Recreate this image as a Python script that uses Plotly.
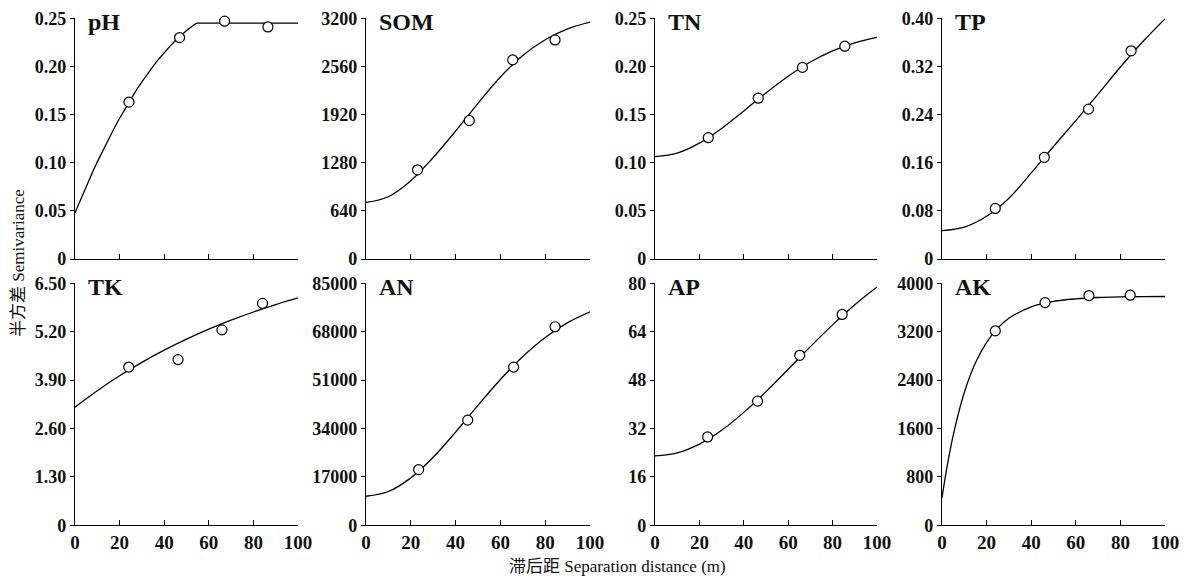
import plotly.graph_objects as go

# Semivariograms of soil properties, 2 rows x 4 panels

PANELS = ["pH", "SOM", "TN", "TP", "TK", "AN", "AP", "AK"]

# observed semivariance (open circles)
PH_LAG = [24.2, 46.9, 67.1, 86.5]
PH_GAMMA = [0.163, 0.230, 0.247, 0.241]
SOM_LAG = [23.0, 46.1, 65.5, 84.4]
SOM_GAMMA = [1186, 1841, 2647, 2912]
TN_LAG = [24.0, 46.5, 66.4, 85.5]
TN_GAMMA = [0.126, 0.167, 0.199, 0.221]
TP_LAG = [23.9, 45.9, 65.7, 84.8]
TP_GAMMA = [0.084, 0.169, 0.249, 0.346]
TK_LAG = [24.1, 46.2, 65.9, 84.1]
TK_GAMMA = [4.25, 4.45, 5.25, 5.96]
AN_LAG = [23.5, 45.4, 65.9, 84.4]
AN_GAMMA = [19590, 36930, 55570, 69740]
AP_LAG = [23.7, 46.2, 65.2, 84.3]
AP_GAMMA = [29.2, 41.05, 56.2, 69.7]
AK_LAG = [23.9, 46.2, 65.9, 84.4]
AK_GAMMA = [3214, 3681, 3797, 3803]

# fitted model curves
CURVE_H = [0, 10, 20, 30, 40, 50, 60, 70, 80, 90, 100]
PH_FIT_H = [0, 2.5, 5, 7.5, 10, 12.5, 15, 17.5, 20, 22.5, 25, 27.5, 30, 32.5, 35,
            37.5, 40, 42.5, 45, 47.5, 50, 52.5, 54.5, 60, 70, 80, 90, 100]
PH_FIT = [0.048, 0.0619, 0.0754, 0.0883, 0.1009, 0.1129, 0.1245, 0.1356, 0.1462,
          0.1564, 0.1661, 0.1753, 0.1840, 0.1923, 0.2001, 0.2075, 0.2144, 0.2208,
          0.2267, 0.2322, 0.2372, 0.2417, 0.2450, 0.2450, 0.2450, 0.2450, 0.2450, 0.2450]
SOM_FIT = [752, 828, 1040, 1350, 1700, 2070, 2420, 2705, 2915, 3060, 3150]
TN_FIT = [0.1064, 0.1100, 0.1203, 0.1356, 0.1538, 0.1725, 0.1898, 0.2046, 0.2161,
          0.2245, 0.2302]
TP_FIT = [0.047, 0.053, 0.071, 0.101, 0.143, 0.187, 0.230, 0.274, 0.319, 0.361, 0.399]
TK_FIT = [3.174, 3.616, 4.015, 4.377, 4.704, 5.000, 5.268, 5.510, 5.729, 5.927, 6.107]
AN_FIT = [10200, 11872, 16659, 23914, 32744, 42132, 51205, 59278, 65977, 71190, 74993]
AP_FIT = [22.95, 23.94, 26.83, 31.40, 37.33, 44.19, 51.58, 59.06, 66.25, 72.90, 78.78]
AK_FIT_H = [0, 2, 5, 10, 15, 20, 25, 30, 40, 50, 60, 70, 80, 90, 100]
AK_FIT = [452, 911, 1483, 2194, 2686, 3025, 3259, 3421, 3610, 3700, 3743, 3765,
          3775, 3780, 3782]

# y-axis ticks per panel
PH_TICKS = [0, 0.05, 0.10, 0.15, 0.20, 0.25]
PH_LABELS = ["0", "0.05", "0.10", "0.15", "0.20", "0.25"]
SOM_TICKS = [0, 640, 1280, 1920, 2560, 3200]
SOM_LABELS = ["0", "640", "1280", "1920", "2560", "3200"]
TN_TICKS = [0, 0.05, 0.10, 0.15, 0.20, 0.25]
TN_LABELS = ["0", "0.05", "0.10", "0.15", "0.20", "0.25"]
TP_TICKS = [0, 0.08, 0.16, 0.24, 0.32, 0.40]
TP_LABELS = ["0", "0.08", "0.16", "0.24", "0.32", "0.40"]
TK_TICKS = [0, 1.3, 2.6, 3.9, 5.2, 6.5]
TK_LABELS = ["0", "1.30", "2.60", "3.90", "5.20", "6.50"]
AN_TICKS = [0, 17000, 34000, 51000, 68000, 85000]
AN_LABELS = ["0", "17000", "34000", "51000", "68000", "85000"]
AP_TICKS = [0, 16, 32, 48, 64, 80]
AP_LABELS = ["0", "16", "32", "48", "64", "80"]
AK_TICKS = [0, 800, 1600, 2400, 3200, 4000]
AK_LABELS = ["0", "800", "1600", "2400", "3200", "4000"]

X_TICKS = [0, 20, 40, 60, 80, 100]

panels = [
    (PH_LAG, PH_GAMMA, PH_FIT_H, PH_FIT, PH_TICKS, PH_LABELS),
    (SOM_LAG, SOM_GAMMA, CURVE_H, SOM_FIT, SOM_TICKS, SOM_LABELS),
    (TN_LAG, TN_GAMMA, CURVE_H, TN_FIT, TN_TICKS, TN_LABELS),
    (TP_LAG, TP_GAMMA, CURVE_H, TP_FIT, TP_TICKS, TP_LABELS),
    (TK_LAG, TK_GAMMA, CURVE_H, TK_FIT, TK_TICKS, TK_LABELS),
    (AN_LAG, AN_GAMMA, CURVE_H, AN_FIT, AN_TICKS, AN_LABELS),
    (AP_LAG, AP_GAMMA, CURVE_H, AP_FIT, AP_TICKS, AP_LABELS),
    (AK_LAG, AK_GAMMA, AK_FIT_H, AK_FIT, AK_TICKS, AK_LABELS),
]

# page body has an 8px margin, so lay out in screen pixels minus that offset
OFF = 8
W, H = 1192 - OFF, 580 - OFF
COL_PX = [(75, 298), (366, 590), (655, 877), (942, 1165)]
ROW_PX = [(18.3, 259), (283.3, 525.3)]
SERIF = "Liberation Serif, Times New Roman, Noto Sans CJK SC, serif"


def px_x(v):
    return (v - OFF) / W


def px_y(v):
    return 1 - (v - OFF) / H


fig = go.Figure()
layout = {}
annotations = []

for i, (lag, gamma, fit_h, fit, yticks, ylabels) in enumerate(panels):
    row, col = divmod(i, 4)
    n = "" if i == 0 else str(i + 1)
    x0, x1 = COL_PX[col]
    top, bottom = ROW_PX[row]

    # pH is a spherical model with a hard break at the range, keep it linear
    line_shape = "linear" if i == 0 else "spline"
    fig.add_trace(go.Scatter(
        x=fit_h, y=fit, mode="lines", line=dict(color="black", width=1.3, shape=line_shape),
        xaxis="x" + n, yaxis="y" + n, showlegend=False, hoverinfo="skip", cliponaxis=False,
    ))
    fig.add_trace(go.Scatter(
        x=lag, y=gamma, mode="markers",
        marker=dict(symbol="circle", size=10, color="white", line=dict(color="black", width=1.2)),
        xaxis="x" + n, yaxis="y" + n, showlegend=False, cliponaxis=False,
    ))

    layout["xaxis" + n] = dict(
        domain=[px_x(x0), px_x(x1)], range=[0, 100], anchor="y" + n,
        showline=True, linecolor="black", linewidth=1.2,
        ticks="inside", ticklen=5, tickwidth=1.2, tickcolor="black",
        tickvals=X_TICKS, showticklabels=(row == 1), automargin=False,
        tickfont=dict(family=SERIF, size=19, color="#111", weight="bold"),
        showgrid=False, zeroline=False,
    )
    layout["yaxis" + n] = dict(
        domain=[px_y(bottom), px_y(top)], range=[0, yticks[-1]], anchor="x" + n,
        showline=True, linecolor="black", linewidth=1.2,
        ticks="outside", ticklen=4, tickwidth=1.2, tickcolor="black",
        tickvals=yticks, ticktext=ylabels, automargin=False, ticklabeloverflow="allow",
        tickfont=dict(family=SERIF, size=18, color="#111", weight="bold"),
        showgrid=False, zeroline=False,
    )
    annotations.append(dict(
        text=PANELS[i], xref="paper", yref="paper",
        x=px_x(x0 + 11), y=px_y(top + 4), xanchor="left", yanchor="middle",
        showarrow=False, font=dict(family=SERIF, size=24, color="#111", weight="bold"),
    ))

annotations.append(dict(
    text="滞后距 Separation distance (m)", xref="paper", yref="paper",
    x=px_x(617), y=px_y(566), xanchor="center", yanchor="middle", showarrow=False,
    font=dict(family=SERIF, size=17, color="#111"),
))
annotations.append(dict(
    text="半方差 Semivariance", xref="paper", yref="paper", textangle=-90,
    x=px_x(18), y=px_y(263), xanchor="center", yanchor="middle", showarrow=False,
    font=dict(family=SERIF, size=17, color="#111"),
))

fig.update_layout(
    width=W, height=H,
    margin=dict(l=0, r=0, t=0, b=0, autoexpand=False),
    paper_bgcolor="white", plot_bgcolor="white",
    annotations=annotations,
    **layout,
)

fig.write_html("out.html")
